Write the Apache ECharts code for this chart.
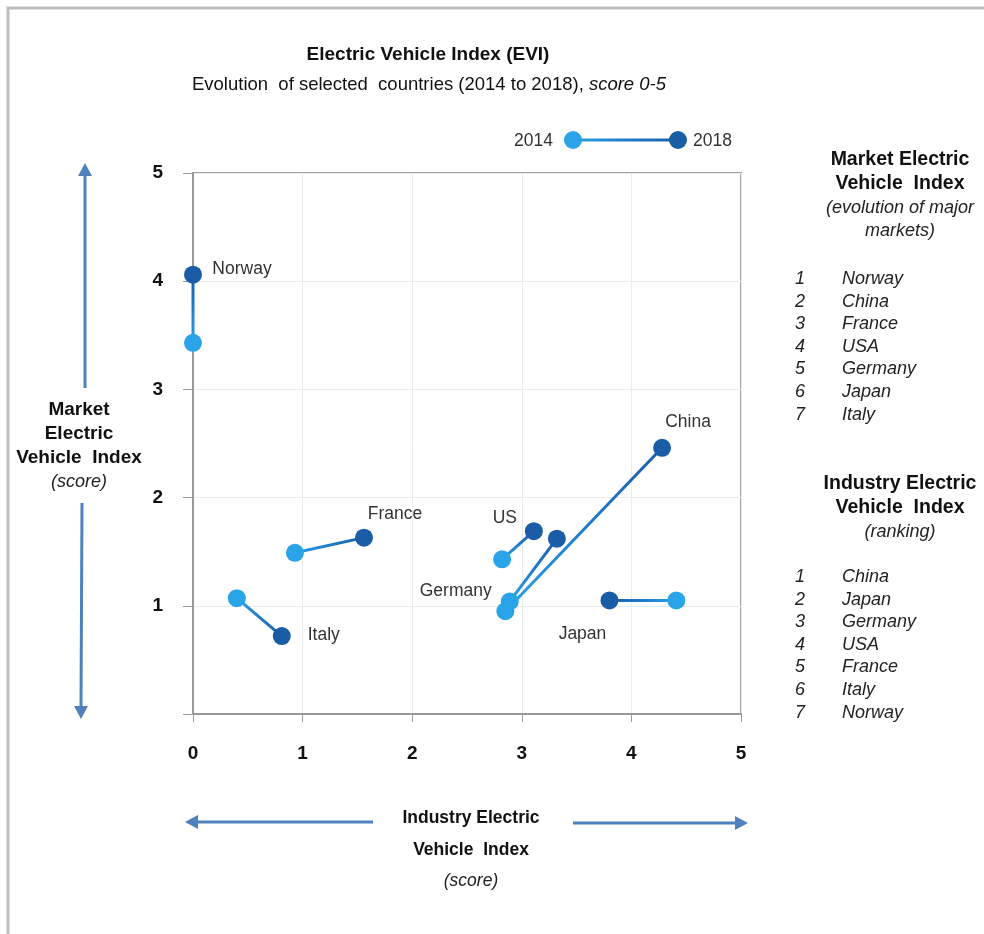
<!DOCTYPE html>
<html>
<head>
<meta charset="utf-8">
<script src="https://cdn.jsdelivr.net/npm/echarts@6/dist/echarts.min.js"></script>
<style>
  html, body { margin: 0; padding: 0; background: #fff; }
  #chart { width: 984px; height: 934px; }
</style>
</head>
<body>
<div id="chart"></div>
<script>
// Electric Vehicle Index: industry score (x) vs market score (y), 2014 -> 2018
const countries = ['Norway', 'France', 'Italy', 'US', 'Germany', 'China', 'Japan'];
const industry2014 = [0.00, 0.93, 0.40, 2.82, 2.89, 2.85, 4.41];
const market2014   = [3.43, 1.49, 1.07, 1.43, 1.04, 0.95, 1.05];
const industry2018 = [0.00, 1.56, 0.81, 3.11, 3.32, 4.28, 3.80];
const market2018   = [4.06, 1.63, 0.72, 1.69, 1.62, 2.46, 1.05];

const axisTicks = [0, 1, 2, 3, 4, 5];
const legendYears = ['2014', '2018'];

const marketRanking = ['Norway', 'China', 'France', 'USA', 'Germany', 'Japan', 'Italy'];
const industryRanking = ['China', 'Japan', 'Germany', 'USA', 'France', 'Italy', 'Norway'];

// label placement per country: which end carries the name, and its offset
const labelSpec = {
  Norway:  { end: 1, offset: [49, -6] },
  France:  { end: 1, offset: [31, -23] },
  Italy:   { end: 1, offset: [42, -1] },
  US:      { end: 1, offset: [-29, -13] },
  Germany: { end: 0, offset: [-54, -10] },
  China:   { end: 1, offset: [26, -26] },
  Japan:   { end: 1, offset: [-27, 34] }
};

const LIGHT = '#2aa4e9';
const DARK = '#1b5ca6';
const MID = '#1f7ccb';
const ARROW = '#4f81bd';
const FONT = '"Liberation Sans", Arial, Helvetica, sans-serif';

function lineGradient(x0, y0, x1, y1) {
  let sx = 0, ex = 0, sy = 0, ey = 0;
  if (x0 !== x1) { sx = x0 < x1 ? 0 : 1; ex = 1 - sx; }
  if (y0 !== y1) { sy = y0 > y1 ? 0 : 1; ey = 1 - sy; }
  return {
    type: 'linear', x: sx, y: sy, x2: ex, y2: ey,
    colorStops: [
      { offset: 0, color: LIGHT },
      { offset: 0.5, color: MID },
      { offset: 1, color: DARK }
    ]
  };
}

const series = countries.map((name, i) => {
  const spec = labelSpec[name];
  const pts = [
    { value: [industry2014[i], market2014[i]], itemStyle: { color: LIGHT } },
    { value: [industry2018[i], market2018[i]], itemStyle: { color: DARK } }
  ];
  pts[spec.end].label = {
    show: true,
    position: 'inside',
    formatter: name,
    offset: spec.offset,
    color: '#333',
    fontFamily: FONT,
    fontSize: 17.5
  };
  return {
    type: 'line',
    name: name,
    data: pts,
    symbol: 'circle',
    symbolSize: 18,
    showAllSymbol: true,
    lineStyle: {
      width: 3,
      color: lineGradient(industry2014[i], market2014[i], industry2018[i], market2018[i])
    },
    emphasis: { disabled: true },
    z: 3
  };
});

// decoration helpers
function arrowHead(tipX, tipY, dir) {
  const L = 13, W = 7;
  let pts;
  if (dir === 'up') pts = [[tipX, tipY], [tipX - W, tipY + L], [tipX + W, tipY + L]];
  else if (dir === 'down') pts = [[tipX, tipY], [tipX - W, tipY - L], [tipX + W, tipY - L]];
  else if (dir === 'left') pts = [[tipX, tipY], [tipX + L, tipY - W], [tipX + L, tipY + W]];
  else pts = [[tipX, tipY], [tipX - L, tipY - W], [tipX - L, tipY + W]];
  return { type: 'polygon', shape: { points: pts }, style: { fill: ARROW }, silent: true };
}
function seg(x1, y1, x2, y2) {
  return { type: 'line', shape: { x1, y1, x2, y2 }, style: { stroke: ARROW, lineWidth: 3 }, silent: true };
}
function txt(x, y, text, opts) {
  return {
    type: 'text', x, y, silent: true,
    style: Object.assign({
      text, fill: '#111', font: '17px ' + FONT, align: 'center', verticalAlign: 'middle'
    }, opts || {})
  };
}

const graphics = [
  // outer frame
  { type: 'rect', shape: { x: 8, y: 8, width: 1100, height: 1100 },
    style: { fill: 'none', stroke: '#bdbdbd', lineWidth: 3 }, silent: true },

  // titles
  txt(428, 55, 'Electric Vehicle Index (EVI)', { font: 'bold 19px ' + FONT }),
  {
    type: 'text', x: 429, y: 85, silent: true,
    style: {
      text: '{n|Evolution  of selected  countries (2014 to 2018), }{i|score 0-5}',
      align: 'center', verticalAlign: 'middle',
      rich: {
        n: { font: '18.5px ' + FONT, fill: '#111' },
        i: { font: 'italic 18.5px ' + FONT, fill: '#111' }
      }
    }
  },

  // legend
  txt(553, 141, legendYears[0], { font: '17.5px ' + FONT, fill: '#333', align: 'right' }),
  { type: 'line', shape: { x1: 573, y1: 140, x2: 678, y2: 140 },
    style: { lineWidth: 3, stroke: { type: 'linear', x: 0, y: 0, x2: 1, y2: 0, global: false,
      colorStops: [{ offset: 0, color: LIGHT }, { offset: 0.5, color: MID }, { offset: 1, color: DARK }] } },
    silent: true },
  { type: 'circle', shape: { cx: 573, cy: 140, r: 9 }, style: { fill: LIGHT }, silent: true },
  { type: 'circle', shape: { cx: 678, cy: 140, r: 9 }, style: { fill: DARK }, silent: true },
  txt(693, 141, legendYears[1], { font: '17.5px ' + FONT, fill: '#333', align: 'left' }),

  // y-axis caption with arrows
  seg(85, 176, 85, 388), arrowHead(85, 163, 'up'),
  seg(82, 503, 81, 706), arrowHead(81, 719, 'down'),
  txt(79, 410, 'Market', { font: 'bold 19px ' + FONT }),
  txt(79, 434, 'Electric', { font: 'bold 19px ' + FONT }),
  txt(79, 458, 'Vehicle  Index', { font: 'bold 19px ' + FONT }),
  txt(79, 482, '(score)', { font: 'italic 18px ' + FONT, fill: '#222' }),

  // x-axis caption with arrows
  seg(198, 822, 373, 822), arrowHead(185, 822, 'left'),
  seg(573, 823, 735, 823), arrowHead(748, 823, 'right'),
  txt(471, 818, 'Industry Electric', { font: 'bold 17.5px ' + FONT }),
  txt(471, 850, 'Vehicle  Index', { font: 'bold 17.5px ' + FONT }),
  txt(471, 881, '(score)', { font: 'italic 17.5px ' + FONT, fill: '#222' }),

  // right panel: market ranking
  txt(900, 160, 'Market Electric', { font: 'bold 19.5px ' + FONT }),
  txt(900, 184, 'Vehicle  Index', { font: 'bold 19.5px ' + FONT }),
  txt(900, 208, '(evolution of major', { font: 'italic 18px ' + FONT, fill: '#222' }),
  txt(900, 231, 'markets)', { font: 'italic 18px ' + FONT, fill: '#222' }),

  // right panel: industry ranking
  txt(900, 484, 'Industry Electric', { font: 'bold 19.5px ' + FONT }),
  txt(900, 508, 'Vehicle  Index', { font: 'bold 19.5px ' + FONT }),
  txt(900, 532, '(ranking)', { font: 'italic 18px ' + FONT, fill: '#222' })
];

function rankingRows(list, y0) {
  list.forEach((name, k) => {
    const y = y0 + k * 22.6;
    graphics.push(txt(800, y, String(k + 1), { font: 'italic 18px ' + FONT, fill: '#222' }));
    graphics.push(txt(842, y, name, { font: 'italic 18px ' + FONT, fill: '#222', align: 'left' }));
  });
}
rankingRows(marketRanking, 279);
rankingRows(industryRanking, 577);

const chart = echarts.init(document.getElementById('chart'), null, { renderer: 'canvas' });
chart.setOption({
  animation: false,
  backgroundColor: '#fff',
  grid: {
    left: 193, right: 243, top: 173, bottom: 220,
    show: true, borderColor: '#a3a3a3', borderWidth: 2
  },
  xAxis: {
    type: 'value', min: axisTicks[0], max: axisTicks[axisTicks.length - 1], interval: 1,
    axisLine: { show: true, lineStyle: { color: '#999', width: 2 } },
    axisTick: { show: true, length: 8, lineStyle: { color: '#999' } },
    axisLabel: { margin: 30, color: '#111', fontWeight: 'bold', fontSize: 19, fontFamily: FONT },
    splitLine: { show: true, lineStyle: { color: '#ebebeb', width: 1 } }
  },
  yAxis: {
    type: 'value', min: axisTicks[0], max: axisTicks[axisTicks.length - 1], interval: 1,
    axisLine: { show: true, lineStyle: { color: '#999', width: 2 } },
    axisTick: { show: true, length: 10, lineStyle: { color: '#999' } },
    axisLabel: {
      margin: 30, color: '#111', fontWeight: 'bold', fontSize: 19, fontFamily: FONT,
      formatter: v => (v === 0 ? '' : String(v))
    },
    splitLine: { show: true, lineStyle: { color: '#ebebeb', width: 1 } }
  },
  series: series,
  graphic: graphics
});
</script>
</body>
</html>
